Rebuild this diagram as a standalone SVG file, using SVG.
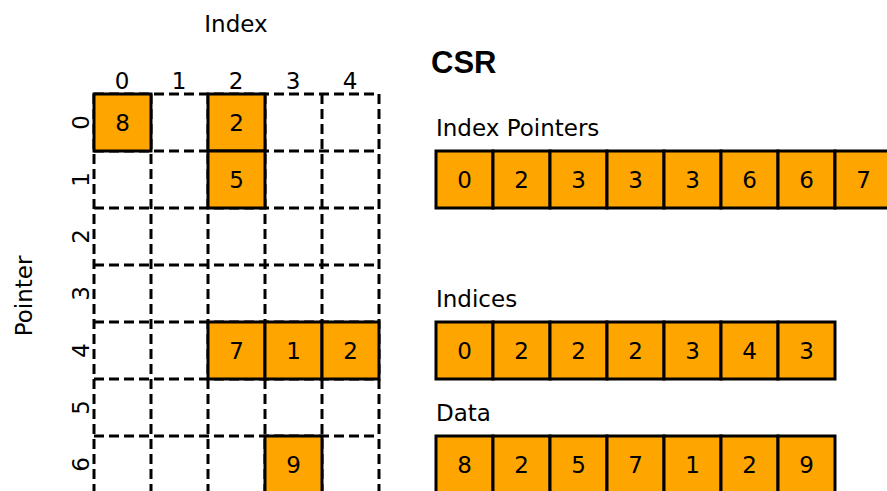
<svg xmlns="http://www.w3.org/2000/svg" width="887" height="491" viewBox="0 0 887 491">
<style>
.t{font-family:"DejaVu Sans",sans-serif;font-size:23px;fill:#000}
.c{text-anchor:middle}
.cell{fill:#ffa500;stroke:#000;stroke-width:3}
.grid{stroke:#000;stroke-width:3;stroke-dasharray:10 5;fill:none}
.h{font-family:"Liberation Sans",Arial,sans-serif;font-weight:bold;font-size:31px;fill:#000}
</style>
<rect width="887" height="491" fill="#fff"/>
<g id="axis-labels">
<text class="t c" x="236" y="32">Index</text>
<text class="t c" transform="translate(32,296) rotate(-90)">Pointer</text>
<text class="t c" x="122" y="89">0</text>
<text class="t c" x="179" y="89">1</text>
<text class="t c" x="236" y="89">2</text>
<text class="t c" x="293" y="89">3</text>
<text class="t c" x="350" y="89">4</text>
<text class="t c" transform="translate(89,122.5) rotate(-90)">0</text>
<text class="t c" transform="translate(89,179.5) rotate(-90)">1</text>
<text class="t c" transform="translate(89,236.5) rotate(-90)">2</text>
<text class="t c" transform="translate(89,293.5) rotate(-90)">3</text>
<text class="t c" transform="translate(89,350.5) rotate(-90)">4</text>
<text class="t c" transform="translate(89,407.5) rotate(-90)">5</text>
<text class="t c" transform="translate(89,464.5) rotate(-90)">6</text>
</g>
<g id="grid">
<path class="grid" d="M94,94V493M151,94V493M208,94V493M265,94V493M322,94V493M379,94V493M94,94H379M94,151H379M94,208H379M94,265H379M94,322H379M94,379H379M94,436H379M94,493H379"/>
</g>
<g id="matrix-cells">
<rect class="cell" x="94" y="94" width="57" height="57"/><text class="t c" x="122.5" y="130.5">8</text>
<rect class="cell" x="208" y="94" width="57" height="57"/><text class="t c" x="236.5" y="130.5">2</text>
<rect class="cell" x="208" y="151" width="57" height="57"/><text class="t c" x="236.5" y="187.5">5</text>
<rect class="cell" x="208" y="322" width="57" height="57"/><text class="t c" x="236.5" y="358.5">7</text>
<rect class="cell" x="265" y="322" width="57" height="57"/><text class="t c" x="293.5" y="358.5">1</text>
<rect class="cell" x="322" y="322" width="57" height="57"/><text class="t c" x="350.5" y="358.5">2</text>
<rect class="cell" x="265" y="436" width="57" height="57"/><text class="t c" x="293.5" y="472.5">9</text>
</g>
<g id="csr-title"><text class="h" x="431" y="73">CSR</text></g>
<g id="index-pointers">
<text class="t" x="436" y="136">Index Pointers</text>
<rect class="cell" x="436" y="151" width="57" height="57"/><text class="t c" x="464.5" y="187.5">0</text>
<rect class="cell" x="493" y="151" width="57" height="57"/><text class="t c" x="521.5" y="187.5">2</text>
<rect class="cell" x="550" y="151" width="57" height="57"/><text class="t c" x="578.5" y="187.5">3</text>
<rect class="cell" x="607" y="151" width="57" height="57"/><text class="t c" x="635.5" y="187.5">3</text>
<rect class="cell" x="664" y="151" width="57" height="57"/><text class="t c" x="692.5" y="187.5">3</text>
<rect class="cell" x="721" y="151" width="57" height="57"/><text class="t c" x="749.5" y="187.5">6</text>
<rect class="cell" x="778" y="151" width="57" height="57"/><text class="t c" x="806.5" y="187.5">6</text>
<rect class="cell" x="835" y="151" width="57" height="57"/><text class="t c" x="863.5" y="187.5">7</text>
</g>
<g id="indices">
<text class="t" x="436" y="307">Indices</text>
<rect class="cell" x="436" y="322" width="57" height="57"/><text class="t c" x="464.5" y="358.5">0</text>
<rect class="cell" x="493" y="322" width="57" height="57"/><text class="t c" x="521.5" y="358.5">2</text>
<rect class="cell" x="550" y="322" width="57" height="57"/><text class="t c" x="578.5" y="358.5">2</text>
<rect class="cell" x="607" y="322" width="57" height="57"/><text class="t c" x="635.5" y="358.5">2</text>
<rect class="cell" x="664" y="322" width="57" height="57"/><text class="t c" x="692.5" y="358.5">3</text>
<rect class="cell" x="721" y="322" width="57" height="57"/><text class="t c" x="749.5" y="358.5">4</text>
<rect class="cell" x="778" y="322" width="57" height="57"/><text class="t c" x="806.5" y="358.5">3</text>
</g>
<g id="data">
<text class="t" x="436" y="421">Data</text>
<rect class="cell" x="436" y="436" width="57" height="57"/><text class="t c" x="464.5" y="472.5">8</text>
<rect class="cell" x="493" y="436" width="57" height="57"/><text class="t c" x="521.5" y="472.5">2</text>
<rect class="cell" x="550" y="436" width="57" height="57"/><text class="t c" x="578.5" y="472.5">5</text>
<rect class="cell" x="607" y="436" width="57" height="57"/><text class="t c" x="635.5" y="472.5">7</text>
<rect class="cell" x="664" y="436" width="57" height="57"/><text class="t c" x="692.5" y="472.5">1</text>
<rect class="cell" x="721" y="436" width="57" height="57"/><text class="t c" x="749.5" y="472.5">2</text>
<rect class="cell" x="778" y="436" width="57" height="57"/><text class="t c" x="806.5" y="472.5">9</text>
</g>
</svg>
